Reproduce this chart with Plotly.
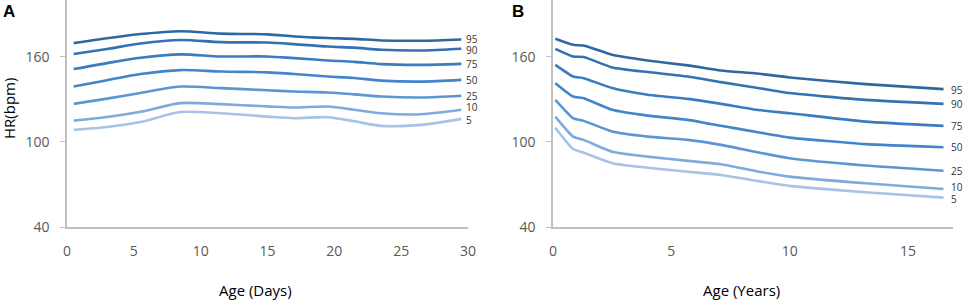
import plotly.graph_objects as go
from plotly.subplots import make_subplots

# ---- Data ----
percentiles = ["95", "90", "75", "50", "25", "10", "5"]

days = [0.5, 3, 5.5, 8.5, 11.5, 15, 17, 19.5, 21.5, 23.5, 26.5, 29.5]
hr_days_95 = [169.6, 173.0, 176.0, 178.0, 176.3, 175.8, 174.3, 173.2, 172.6, 171.5, 171.3, 172.2]
hr_days_90 = [161.9, 165.5, 169.3, 171.8, 170.3, 170.0, 168.9, 167.2, 166.4, 164.9, 164.4, 165.6]
hr_days_75 = [151.3, 155.5, 159.3, 161.7, 160.2, 160.2, 159.0, 157.4, 156.4, 154.8, 154.3, 155.0]
hr_days_50 = [139.0, 143.5, 147.8, 150.6, 149.6, 149.0, 147.8, 146.1, 145.0, 143.2, 142.5, 143.7]
hr_days_25 = [126.8, 130.5, 134.5, 139.0, 137.9, 136.4, 135.5, 134.8, 133.5, 132.0, 131.3, 132.5]
hr_days_10 = [115.0, 117.5, 121.2, 127.3, 126.6, 125.0, 124.2, 124.9, 122.6, 120.2, 119.5, 122.6]
hr_days_5 = [108.5, 110.5, 114.0, 121.0, 120.2, 117.8, 116.7, 117.4, 114.5, 111.3, 112.0, 116.2]

years = [0.1, 0.85, 1.3, 2.5, 4, 5.7, 7.1, 8.6, 10, 13.2, 16.5]
hr_years_95 = [172.7, 168.4, 167.9, 161.4, 157.4, 153.9, 150.3, 148.2, 145.4, 140.7, 137.2]
hr_years_90 = [165.6, 160.2, 159.8, 152.5, 149.2, 146.1, 142.1, 138.2, 134.4, 129.6, 126.8]
hr_years_75 = [154.3, 146.1, 144.9, 137.9, 133.2, 130.3, 126.8, 122.6, 120.2, 114.3, 111.3]
hr_years_50 = [141.4, 132.0, 130.8, 122.6, 118.5, 115.5, 111.3, 107.0, 103.0, 98.4, 96.2]
hr_years_25 = [129.6, 116.7, 114.8, 107.3, 103.7, 101.4, 97.9, 92.8, 88.4, 83.3, 79.7]
hr_years_10 = [117.8, 103.7, 101.4, 93.1, 89.6, 86.6, 84.2, 79.3, 75.5, 70.8, 66.8]
hr_years_5 = [110.0, 95.0, 92.4, 85.0, 81.8, 79.0, 76.7, 72.5, 69.0, 64.5, 60.7]

y_ticks = [40, 100, 160]
x_ticks_days = [0, 5, 10, 15, 20, 25, 30]
x_ticks_years = [0, 5, 10, 15]

series_days = [hr_days_95, hr_days_90, hr_days_75, hr_days_50, hr_days_25, hr_days_10, hr_days_5]
series_years = [hr_years_95, hr_years_90, hr_years_75, hr_years_50, hr_years_25, hr_years_10, hr_years_5]

colors = ["#2f68a0", "#3271b2", "#3a7cc2", "#4285cb", "#5b96d3", "#7eaadd", "#a8c3e6"]
label_yshift_days = [0, -1, 0, 0, 0, 3, -1]
label_yshift_years = [-1, 0, 0, 0, 0, 2, -1]

fig = make_subplots(rows=1, cols=2, horizontal_spacing=0.0)

for name, vals, col, ys in zip(percentiles, series_days, colors, label_yshift_days):
    fig.add_trace(go.Scatter(x=days, y=vals, mode="lines", name=name,
                             line=dict(color=col, width=2.6, shape="spline", smoothing=0.8),
                             showlegend=False, hoverinfo="skip"), row=1, col=1)
    fig.add_annotation(x=days[-1], y=vals[-1], xref="x", yref="y", text=name,
                       showarrow=False, xanchor="left", xshift=3, yshift=ys,
                       font=dict(size=10, color="#333333", family="Open Sans"))

for name, vals, col, ys in zip(percentiles, series_years, colors, label_yshift_years):
    fig.add_trace(go.Scatter(x=years, y=vals, mode="lines", name=name,
                             line=dict(color=col, width=2.6, shape="spline", smoothing=0.5),
                             showlegend=False, hoverinfo="skip"), row=1, col=2)
    fig.add_annotation(x=years[-1], y=vals[-1], xref="x2", yref="y2", text=name,
                       showarrow=False, xanchor="left", xshift=5, yshift=ys,
                       font=dict(size=10, color="#333333", family="Open Sans"))

axis_common = dict(showgrid=False, zeroline=False, showline=True, linecolor="#bfbfbf",
                   linewidth=1.5, tickfont=dict(size=14, color="#595959", family="Open Sans"))

fig.update_xaxes(**axis_common, ticks="", tickvals=x_ticks_days, range=[0, 30],
                 ticklabelstandoff=10, domain=[0, 0.4526], row=1, col=1)
fig.update_xaxes(**axis_common, ticks="", tickvals=x_ticks_years, range=[0, 16.9],
                 ticklabelstandoff=10, domain=[0.5485, 1.0], row=1, col=2)
fig.update_yaxes(**axis_common, ticks="outside", ticklen=5, tickcolor="#bfbfbf",
                 ticklabelstandoff=8, tickvals=y_ticks, range=[40, 200], row=1, col=1)
fig.update_yaxes(**axis_common, ticks="outside", ticklen=5, tickcolor="#bfbfbf",
                 ticklabelstandoff=8, tickvals=y_ticks, range=[40, 200], row=1, col=2)

# Axis titles and panel letters
fig.add_annotation(x=(9 - 67) / 886, y=(227 - 109) / 227, xref="paper", yref="paper", text="HR(bpm)",
                   textangle=-90, showarrow=False, xanchor="center", yanchor="middle",
                   font=dict(size=15, color="#000000", family="Open Sans"))
fig.add_annotation(x=(255 - 67) / 886, y=-0.278, xref="paper", yref="paper", text="Age (Days)",
                   showarrow=False, xanchor="center", yanchor="middle",
                   font=dict(size=15, color="#000000", family="Open Sans"))
fig.add_annotation(x=(741 - 67) / 886, y=-0.278, xref="paper", yref="paper", text="Age (Years)",
                   showarrow=False, xanchor="center", yanchor="middle",
                   font=dict(size=15, color="#000000", family="Open Sans"))
fig.add_annotation(x=(9 - 67) / 886, y=(227 - 12) / 227, xref="paper", yref="paper", text="<b>A</b>",
                   showarrow=False, xanchor="center", yanchor="middle",
                   font=dict(size=17, color="#000000", family="Liberation Sans"))
fig.add_annotation(x=(518 - 67) / 886, y=(227 - 12) / 227, xref="paper", yref="paper", text="<b>B</b>",
                   showarrow=False, xanchor="center", yanchor="middle",
                   font=dict(size=17, color="#000000", family="Liberation Sans"))

fig.update_layout(width=965, height=301, margin=dict(l=67, r=12, t=0, b=74),
                  plot_bgcolor="white", paper_bgcolor="white", showlegend=False)

fig.write_html("out.html", config={"displayModeBar": False},
               post_script="document.body.style.margin='0';document.body.style.overflow='hidden';")
